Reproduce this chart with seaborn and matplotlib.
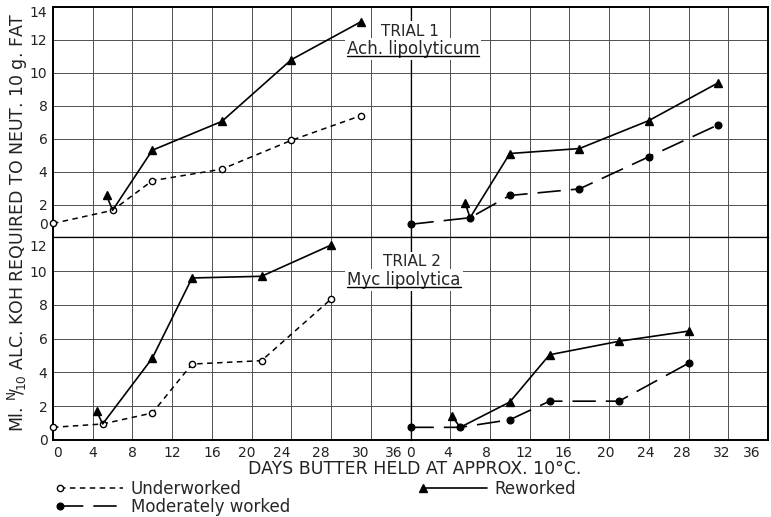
import numpy as np
import pandas as pd
import seaborn as sns
import matplotlib.pyplot as plt
from matplotlib.lines import Line2D
from matplotlib.legend_handler import HandlerLine2D
from matplotlib.transforms import IdentityTransform

# Trial 1 - Ach. lipolyticum (days held, ml N/10 KOH)
t1_under_days = [0, 6, 10, 17, 24, 31]
t1_under = [0.85, 1.65, 3.45, 4.15, 5.9, 7.4]
t1_rew_u_days = [5.4, 6, 10, 17, 24, 31]
t1_rew_u = [2.55, 1.65, 5.3, 7.05, 10.8, 13.1]
t1_mod_days = [0, 6, 10, 17, 24, 31]
t1_mod = [0.8, 1.2, 2.55, 2.95, 4.9, 6.85]
t1_rew_m_days = [5.5, 6, 10, 17, 24, 31]
t1_rew_m = [2.1, 1.2, 5.1, 5.4, 7.1, 9.4]

# Trial 2 - Myc lipolytica
t2_under_days = [0, 5, 10, 14, 21, 28]
t2_under = [0.75, 0.95, 1.6, 4.5, 4.7, 8.35]
t2_rew_u_days = [4.4, 5, 10, 14, 21, 28]
t2_rew_u = [1.7, 0.95, 4.85, 9.6, 9.7, 11.55]
t2_mod_days = [0, 5, 10, 14, 21, 28]
t2_mod = [0.75, 0.75, 1.2, 2.3, 2.3, 4.55]
t2_rew_m_days = [4.2, 5, 10, 14, 21, 28]
t2_rew_m = [1.4, 0.75, 2.25, 5.05, 5.85, 6.45]

# tick labels as lettered on the original
left_xlabels = ['0', '4', '8', '12', '16', '20', '24', '28', '30', '36']
right_xlabels = ['0', '4', '8', '12', '16', '20', '24', '28', '32', '36']
top_ylabels = ['0', '2', '4', '6', '8', '10', '12', '14']
bottom_ylabels = ['0', '2', '4', '6', '8', '10', '12']

sns.set_style("white")
plt.rcParams['font.family'] = ['DejaVu Sans']

STYLES = {
    'Underworked': dict(linestyle=(0, (3.6, 2.9)), linewidth=1.1, marker='o', markersize=4.5,
                        markerfacecolor='white', markeredgecolor='k', markeredgewidth=1.0),
    'Moderately worked': dict(linestyle=(0, (14, 6)), linewidth=1.2, marker='o', markersize=4.8,
                              markerfacecolor='k', markeredgecolor='k', markeredgewidth=1.0),
    'Reworked': dict(linestyle='-', linewidth=1.2, marker='^', markersize=5.5,
                     markerfacecolor='k', markeredgecolor='k', markeredgewidth=1.0),
}


def draw(ax, days, vals, kind, hook=False):
    kw = dict(STYLES[kind])
    if hook:
        # reworked lot: first point joins the curve it was made from, no marker there
        kw['markevery'] = [0] + list(range(2, len(days)))
    sns.lineplot(x=days, y=vals, ax=ax, color='k', errorbar=None, clip_on=False, zorder=3, **kw)


fig = plt.figure(figsize=(7.71, 5.17), dpi=100)
gs = fig.add_gridspec(2, 2, left=53/771, right=768/771, top=1-7/517, bottom=1-440/517,
                      hspace=0, wspace=0, height_ratios=[231, 203])
ax_tl = fig.add_subplot(gs[0, 0])
ax_tr = fig.add_subplot(gs[0, 1])
ax_bl = fig.add_subplot(gs[1, 0])
ax_br = fig.add_subplot(gs[1, 1])

draw(ax_tl, t1_under_days, t1_under, 'Underworked')
draw(ax_tl, t1_rew_u_days, t1_rew_u, 'Reworked', hook=True)
draw(ax_tr, t1_mod_days, t1_mod, 'Moderately worked')
draw(ax_tr, t1_rew_m_days, t1_rew_m, 'Reworked', hook=True)
draw(ax_bl, t2_under_days, t2_under, 'Underworked')
draw(ax_bl, t2_rew_u_days, t2_rew_u, 'Reworked', hook=True)
draw(ax_br, t2_mod_days, t2_mod, 'Moderately worked')
draw(ax_br, t2_rew_m_days, t2_rew_m, 'Reworked', hook=True)

# label positions (hand lettering is a bit off the grid)
left_xpos = [0.5, 4, 8, 12, 16, 19.5, 23, 27, 31, 34.3]
right_xpos = [0, 3.7, 7.6, 11.5, 15.4, 19.7, 23.7, 27.3, 31.3, 34.4]
top_ypos = [0.85, 2, 4, 6, 8, 10, 12, 13.7]
bottom_ypos = [0, 2, 4, 6, 8, 10, 11.5]

for ax, ytop in [(ax_tl, 14), (ax_tr, 14), (ax_bl, 12), (ax_br, 12)]:
    ax.set_xlim(0, 36)
    ax.set_ylim(0, ytop)
    ax.set_xticks(np.arange(0, 37, 4))
    ax.set_yticks(np.arange(0, ytop + 1, 2))
    ax.xaxis.remove_overlapping_locs = False
    ax.yaxis.remove_overlapping_locs = False
    ax.grid(True, which='major', color='#505050', linewidth=0.7)
    ax.tick_params(which='both', length=0, labelbottom=False, labelleft=False,
                   labelsize=10, colors='#222222', pad=4)
    ax.set_xlabel('')
    ax.set_ylabel('')
    for s in ax.spines.values():
        s.set_color('k')
        s.set_linewidth(0.9)

# heavier outer frame
ax_tl.spines['left'].set_linewidth(1.4)
ax_bl.spines['left'].set_linewidth(1.4)
ax_tl.spines['top'].set_linewidth(1.4)
ax_tr.spines['top'].set_linewidth(1.4)
ax_tr.spines['right'].set_linewidth(1.4)
ax_br.spines['right'].set_linewidth(1.4)
ax_bl.spines['bottom'].set_linewidth(1.4)
ax_br.spines['bottom'].set_linewidth(1.4)

ax_bl.set_xticks(left_xpos, left_xlabels, minor=True)
ax_br.set_xticks(right_xpos, right_xlabels, minor=True)
ax_tl.set_yticks(top_ypos, top_ylabels, minor=True)
ax_bl.set_yticks(bottom_ypos, bottom_ylabels, minor=True)
ax_bl.tick_params(which='minor', labelbottom=True, labelleft=True)
ax_br.tick_params(which='minor', labelbottom=True)
ax_tl.tick_params(which='minor', labelleft=True)

fig.text(18/771, 1-222/517, r'Ml. $^{\mathrm{N}}\!/\!_{\mathrm{10}}$ ALC. KOH REQUIRED TO NEUT. 10 g. FAT',
         rotation=90, ha='center', va='center', fontsize=12.5, color='#222222')
fig.text(415/771, 1-469/517, 'DAYS BUTTER HELD AT APPROX. 10°C.',
         ha='center', va='center', fontsize=12.5, color='#222222')

box = dict(facecolor='white', edgecolor='none', pad=1.5)
fig.text(410/771, 1-31/517, 'TRIAL 1', ha='center', va='center', fontsize=11, bbox=box)
sp1 = fig.text(413/771, 1-49/517, 'Ach. lipolyticum', ha='center', va='center', fontsize=12, bbox=box)
fig.text(412/771, 1-262/517, 'TRIAL 2', ha='center', va='center', fontsize=11, bbox=box)
sp2 = fig.text(404/771, 1-280/517, 'Myc lipolytica', ha='center', va='center', fontsize=12, bbox=box)


class MarkerFirst(HandlerLine2D):
    def create_artists(self, *args, **kwargs):
        arts = super().create_artists(*args, **kwargs)
        arts[0].set_markevery([0])
        return arts


names = ['Underworked', 'Moderately worked', 'Reworked']
handles = [Line2D([], [], color='k', **STYLES[n]) for n in names]
fig.legend(handles, names, loc='upper left', bbox_to_anchor=(60/771, 1-480/517), ncol=2,
           frameon=False, fontsize=12, handlelength=3.8, handletextpad=0.45, columnspacing=8.0,
           labelspacing=0.0, borderpad=0, borderaxespad=0, numpoints=1,
           handler_map={Line2D: MarkerFirst()})

fig.canvas.draw()
rend = fig.canvas.get_renderer()
for t in [sp1, sp2]:
    bb = t.get_window_extent(rend)
    fig.add_artist(Line2D([bb.x0, bb.x1], [bb.y0 + 2, bb.y0 + 2], color='k', lw=1.0,
                          transform=IdentityTransform(), zorder=6))

fig.savefig('out.png', dpi=100)
